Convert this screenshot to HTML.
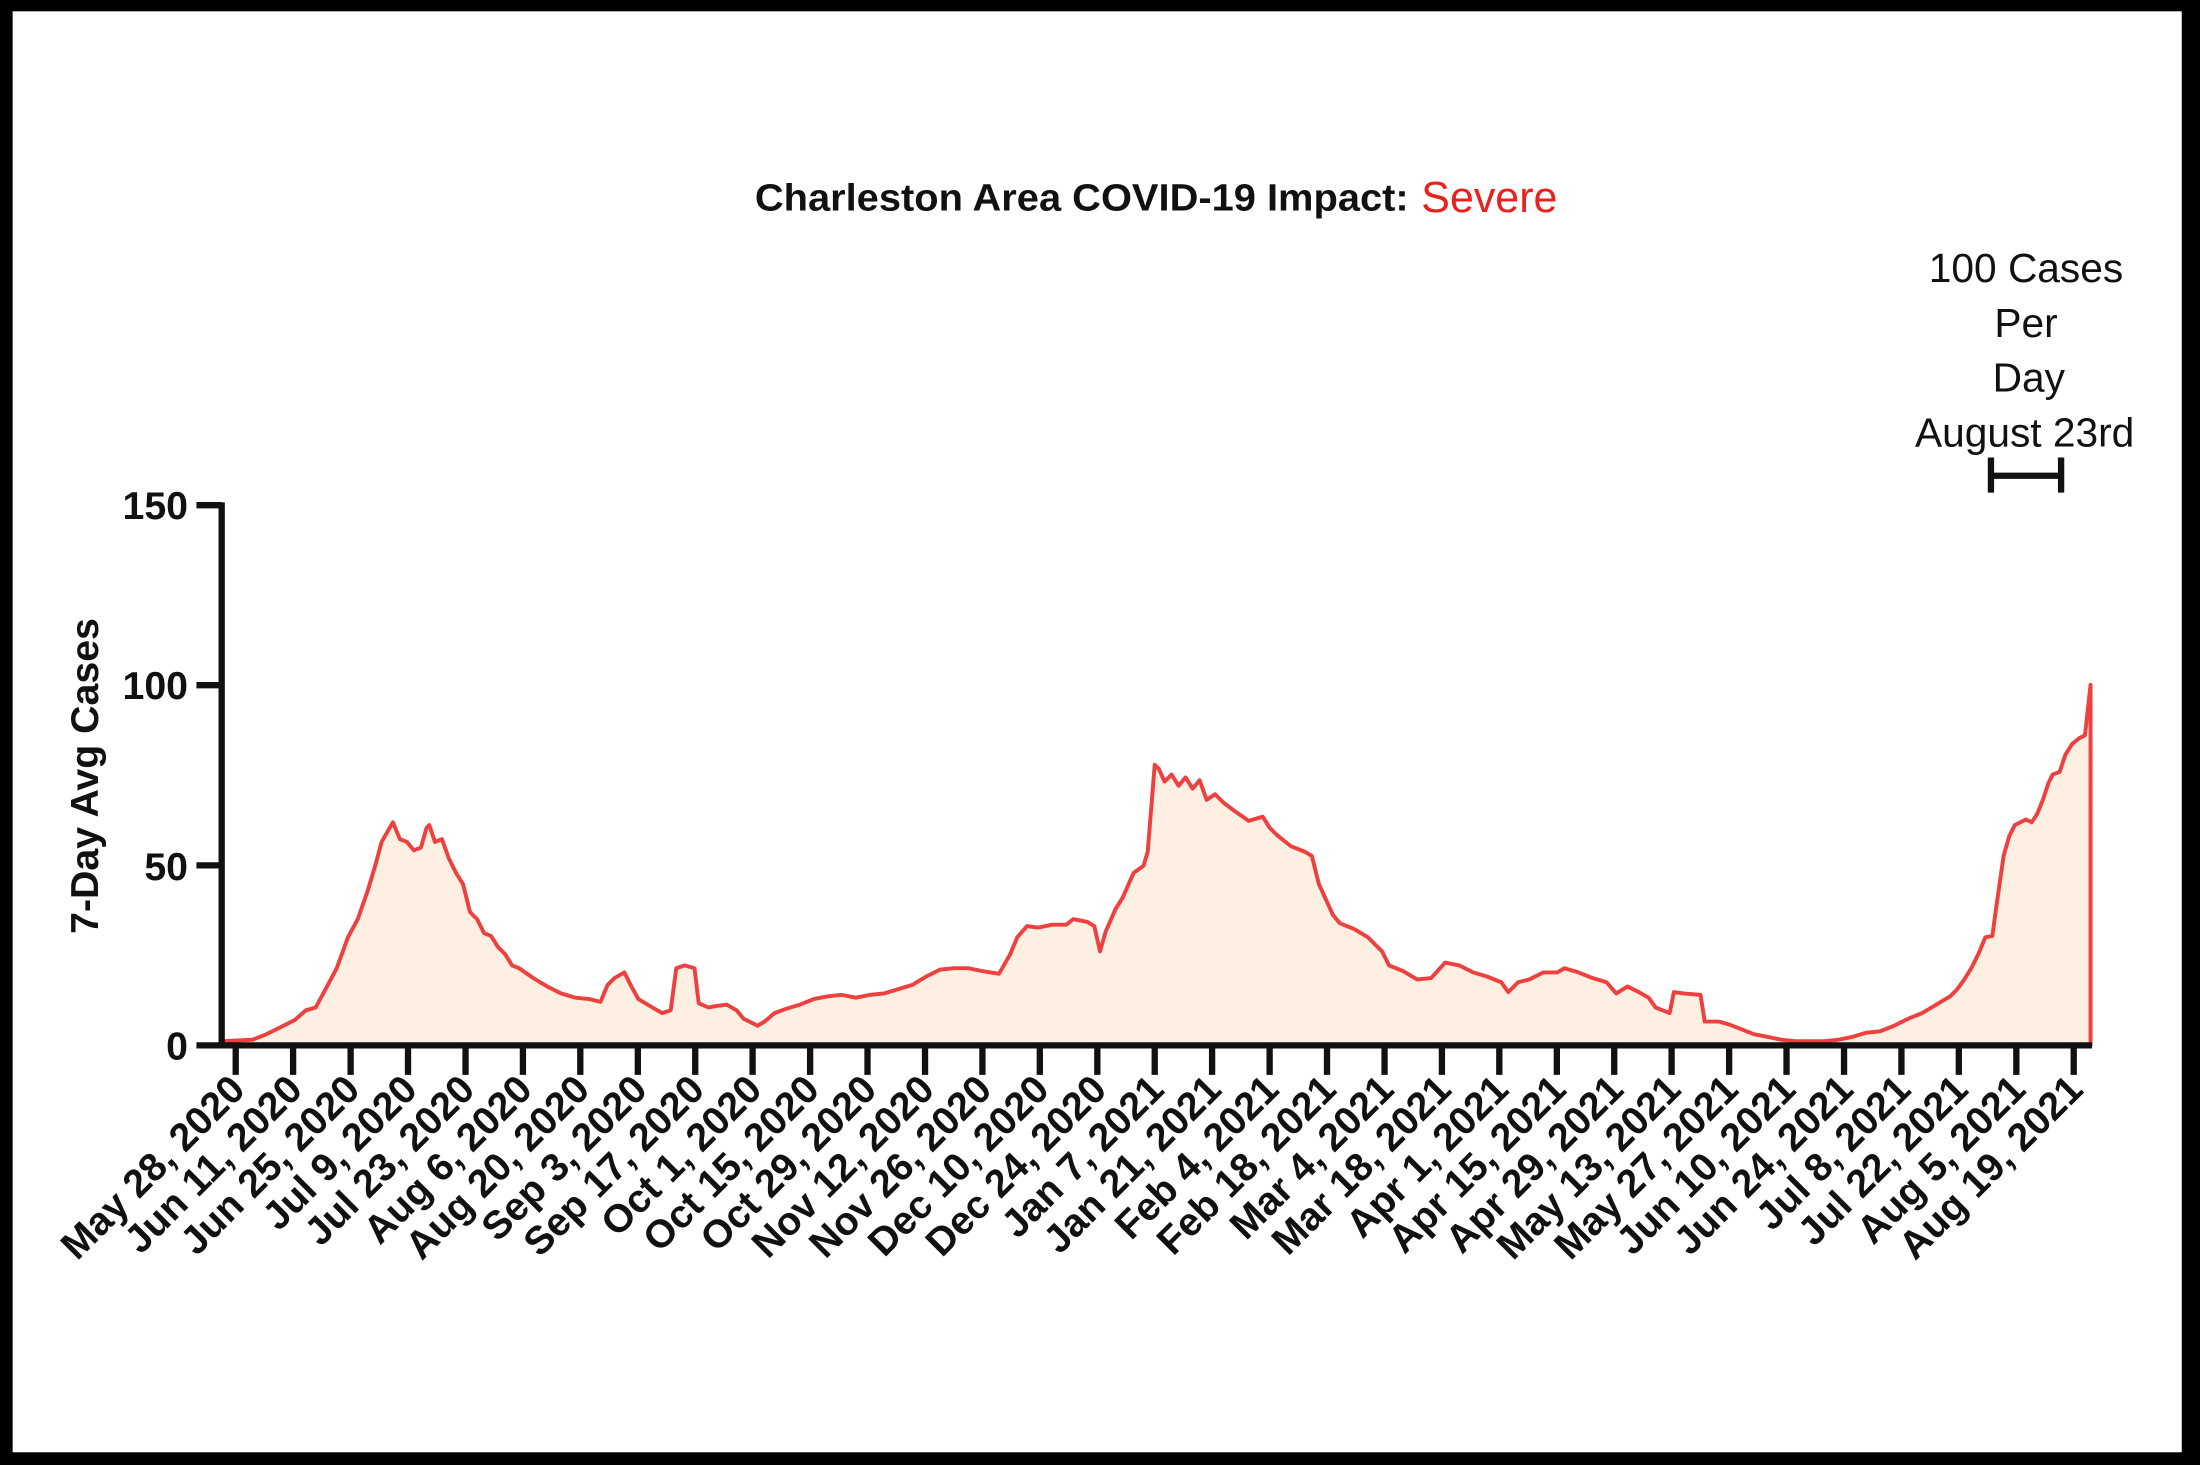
<!DOCTYPE html>
<html><head><meta charset="utf-8"><style>
html,body{margin:0;padding:0;background:#000;}
svg{display:block;}
</style></head><body>
<svg width="2200" height="1465" viewBox="0 0 1568 1044" xmlns="http://www.w3.org/2000/svg" font-family="Liberation Sans, Arial, sans-serif">
<rect x="0" y="0" width="1568" height="1044" fill="#000"/>
<rect x="9" y="8" width="1546" height="1027" fill="#fff"/>
<text x="538" y="150" font-size="27" font-weight="bold" fill="#111" textLength="466" lengthAdjust="spacingAndGlyphs">Charleston Area COVID-19 Impact:</text>
<text x="1013" y="151" font-size="31" fill="#e8231f" textLength="97" lengthAdjust="spacingAndGlyphs">Severe</text>
<g font-size="29" fill="#111" text-anchor="middle">
<text x="1444" y="201">100 Cases</text>
<text x="1444" y="240">Per</text>
<text x="1446" y="279">Day</text>
<text x="1443" y="318">August 23rd</text>
</g>
<g stroke="#111" stroke-width="4.5">
<line x1="1417" y1="339" x2="1471" y2="339"/>
<line x1="1419" y1="326" x2="1419" y2="351"/>
<line x1="1469" y1="326" x2="1469" y2="351"/>
</g>
<path fill="#fdf0e3" stroke="#ef4040" stroke-width="2.8" stroke-linejoin="round" d="M158,742 L180,741 L190,737 L200,732 L210,727 L218,720 L225,718 L232,705 L240,690 L248,668 L255,655 L262,635 L268,615 L272,600 L280,586 L285,598 L290,600 L295,606 L300,604 L304,590 L306,588 L310,600 L315,598 L320,612 L325,622 L330,630 L335,650 L340,655 L345,665 L350,667 L355,675 L360,680 L365,688 L370,690 L380,697 L390,703 L400,708 L410,711 L420,712 L428,714 L433,702 L438,697 L445,693 L450,703 L455,712 L465,718 L472,722 L478,720 L482,690 L488,688 L495,690 L498,715 L505,718 L510,717 L518,716 L525,720 L530,726 L540,731 L545,728 L552,722 L560,719 L570,716 L580,712 L590,710 L600,709 L610,711 L620,709 L630,708 L640,705 L650,702 L660,696 L670,691 L680,690 L690,690 L700,692 L712,694 L720,680 L725,668 L732,660 L740,661 L750,659 L760,659 L765,655 L775,657 L780,660 L784,678 L788,664 L795,648 L800,640 L808,622 L815,617 L818,607 L823,545 L826,548 L830,557 L835,552 L840,560 L845,554 L850,562 L855,556 L860,570 L866,566 L872,572 L880,578 L890,585 L900,582 L905,590 L910,595 L920,603 L930,607 L935,610 L940,630 L950,652 L955,658 L965,662 L975,668 L985,678 L990,688 L1000,692 L1010,698 L1020,697 L1030,686 L1040,688 L1050,693 L1060,696 L1070,700 L1075,707 L1082,700 L1090,698 L1100,693 L1110,693 L1115,690 L1125,693 L1135,697 L1145,700 L1152,708 L1160,703 L1168,707 L1175,711 L1180,718 L1190,722 L1193,707 L1200,708 L1212,709 L1215,728 L1225,728 L1232,730 L1240,733 L1250,737 L1260,739 L1270,741 L1280,742 L1290,742 L1300,742 L1310,741 L1320,739 L1330,736 L1340,735 L1350,731 L1360,726 L1370,722 L1380,716 L1385,713 L1390,710 L1395,705 L1400,698 L1405,690 L1410,680 L1415,668 L1420,667 L1423,645 L1428,610 L1432,596 L1436,588 L1440,586 L1444,584 L1448,586 L1452,580 L1456,570 L1460,558 L1463,552 L1468,550 L1472,538 L1477,530 L1482,526 L1486,524 L1490,488 L1490,745 L158,745 Z"/>
<g stroke="#111" stroke-width="4.5" fill="none">
<line x1="158" y1="358" x2="158" y2="747"/>
<line x1="140" y1="360" x2="158" y2="360"/>
<line x1="140" y1="488.3" x2="158" y2="488.3"/>
<line x1="140" y1="616.7" x2="158" y2="616.7"/>
<line x1="140" y1="745" x2="158" y2="745"/>
<line x1="156" y1="745" x2="1491" y2="745"/>
<path d="M168,745V766M208.9,745V766M249.9,745V766M290.8,745V766M331.8,745V766M372.7,745V766M413.6,745V766M454.6,745V766M495.5,745V766M536.4,745V766M577.4,745V766M618.3,745V766M659.3,745V766M700.2,745V766M741.1,745V766M782.1,745V766M823,745V766M863.9,745V766M904.9,745V766M945.8,745V766M986.8,745V766M1027.7,745V766M1068.6,745V766M1109.6,745V766M1150.5,745V766M1191.4,745V766M1232.4,745V766M1273.3,745V766M1314.3,745V766M1355.2,745V766M1396.1,745V766M1437.1,745V766M1478,745V766"/>
</g>
<g font-size="28" font-weight="bold" fill="#111" text-anchor="end">
<text x="134" y="370">150</text>
<text x="134" y="498">100</text>
<text x="134" y="627">50</text>
<text x="134" y="755">0</text>
</g>
<text transform="translate(70,553) rotate(-90)" font-size="28" font-weight="bold" fill="#111" text-anchor="middle">7-Day Avg Cases</text>
<g font-size="28" font-weight="bold" fill="#111" text-anchor="end">
<text transform="translate(176,778) rotate(-45)">May 28, 2020</text>
<text transform="translate(216.9,778) rotate(-45)">Jun 11, 2020</text>
<text transform="translate(257.9,778) rotate(-45)">Jun 25, 2020</text>
<text transform="translate(298.8,778) rotate(-45)">Jul 9, 2020</text>
<text transform="translate(339.8,778) rotate(-45)">Jul 23, 2020</text>
<text transform="translate(380.7,778) rotate(-45)">Aug 6, 2020</text>
<text transform="translate(421.6,778) rotate(-45)">Aug 20, 2020</text>
<text transform="translate(462.6,778) rotate(-45)">Sep 3, 2020</text>
<text transform="translate(503.5,778) rotate(-45)">Sep 17, 2020</text>
<text transform="translate(544.4,778) rotate(-45)">Oct 1, 2020</text>
<text transform="translate(585.4,778) rotate(-45)">Oct 15, 2020</text>
<text transform="translate(626.3,778) rotate(-45)">Oct 29, 2020</text>
<text transform="translate(667.3,778) rotate(-45)">Nov 12, 2020</text>
<text transform="translate(708.2,778) rotate(-45)">Nov 26, 2020</text>
<text transform="translate(749.1,778) rotate(-45)">Dec 10, 2020</text>
<text transform="translate(790.1,778) rotate(-45)">Dec 24, 2020</text>
<text transform="translate(831,778) rotate(-45)">Jan 7, 2021</text>
<text transform="translate(871.9,778) rotate(-45)">Jan 21, 2021</text>
<text transform="translate(912.9,778) rotate(-45)">Feb 4, 2021</text>
<text transform="translate(953.8,778) rotate(-45)">Feb 18, 2021</text>
<text transform="translate(994.8,778) rotate(-45)">Mar 4, 2021</text>
<text transform="translate(1035.7,778) rotate(-45)">Mar 18, 2021</text>
<text transform="translate(1076.6,778) rotate(-45)">Apr 1, 2021</text>
<text transform="translate(1117.6,778) rotate(-45)">Apr 15, 2021</text>
<text transform="translate(1158.5,778) rotate(-45)">Apr 29, 2021</text>
<text transform="translate(1199.4,778) rotate(-45)">May 13, 2021</text>
<text transform="translate(1240.4,778) rotate(-45)">May 27, 2021</text>
<text transform="translate(1281.3,778) rotate(-45)">Jun 10, 2021</text>
<text transform="translate(1322.3,778) rotate(-45)">Jun 24, 2021</text>
<text transform="translate(1363.2,778) rotate(-45)">Jul 8, 2021</text>
<text transform="translate(1404.1,778) rotate(-45)">Jul 22, 2021</text>
<text transform="translate(1445.1,778) rotate(-45)">Aug 5, 2021</text>
<text transform="translate(1486,778) rotate(-45)">Aug 19, 2021</text>
</g>
</svg>
</body></html>
